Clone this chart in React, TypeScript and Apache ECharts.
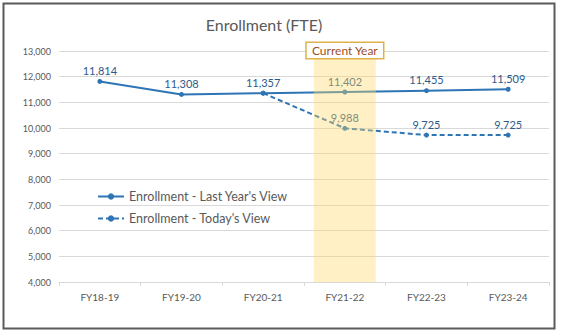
import React, { useEffect, useRef } from "react";
import * as echarts from "echarts";

const categories = ["FY18-19", "FY19-20", "FY20-21", "FY21-22", "FY22-23", "FY23-24"];
const lastYearView = [11814, 11308, 11357, 11402, 11455, 11509];
const todayView: (number | string)[] = ["-", "-", 11357, 9988, 9725, 9725];
const currentYearBand: (number | string)[] = ["-", "-", "-", 13000, "-", "-"];
const seriesNames = ["Enrollment - Last Year's View", "Enrollment - Today's View"];
const yMin = 4000;
const yMax = 13000;
const yInterval = 1000;

const FONT = "Lato, 'Noto Sans', sans-serif";
const BLUE = "#2E75B6";
const LABEL = "#2C5A8C";

export default function App() {
  const ref = useRef<HTMLDivElement>(null);
  useEffect(() => {
    if (!ref.current) return;
    const chart = echarts.init(ref.current, null, { renderer: "svg" });
    chart.setOption({
      animation: false,
      backgroundColor: "#fff",
      textStyle: { fontFamily: FONT },
      title: {
        text: "Enrollment (FTE)",
        left: 259,
        top: 11,
        textAlign: "center",
        textStyle: { fontFamily: FONT, fontSize: 16, fontWeight: "normal", color: "#595959" },
      },
      graphic: [
        {
          type: "rect",
          shape: { x: 3.5, y: 3.5, width: 551, height: 325 },
          style: { fill: "none", stroke: "#5a5a5a", lineWidth: 2 },
          silent: true,
        },
      ],
      legend: {
        orient: "vertical",
        left: 97,
        top: 190,
        padding: 0,
        itemWidth: 26,
        itemHeight: 8,
        itemGap: 9,
        data: seriesNames,
        textStyle: { fontFamily: FONT, fontSize: 12.5, color: "#595959" },
      },
      grid: { left: 59, right: 12, top: 51, bottom: 51 },
      xAxis: {
        type: "category",
        data: categories,
        boundaryGap: true,
        axisLine: { lineStyle: { color: "#D9D9D9" } },
        axisTick: { show: true, length: 4, lineStyle: { color: "#D9D9D9" } },
        axisLabel: { fontFamily: FONT, fontSize: 10, color: "#595959", margin: 10 },
      },
      yAxis: {
        type: "value",
        min: yMin,
        max: yMax,
        interval: yInterval,
        axisLine: { show: false },
        axisTick: { show: false },
        splitLine: { lineStyle: { color: "#D9D9D9" } },
        axisLabel: {
          fontFamily: FONT,
          fontSize: 9,
          color: "#595959",
          margin: 8,
          formatter: (v: number) => v.toLocaleString("en-US"),
        },
      },
      series: [
        {
          name: seriesNames[0],
          type: "line",
          data: lastYearView,
          symbol: "circle",
          symbolSize: 5,
          z: 2,
          lineStyle: { color: BLUE, width: 2 },
          itemStyle: { color: BLUE },
          label: {
            show: true,
            position: "top",
            distance: 3,
            fontFamily: FONT,
            fontSize: 11,
            color: LABEL,
            formatter: (p: any) => Number(p.value).toLocaleString("en-US"),
          },
        },
        {
          name: seriesNames[1],
          type: "line",
          data: todayView,
          symbol: "circle",
          symbolSize: 5,
          z: 2,
          lineStyle: { color: BLUE, width: 2, type: [5, 3] },
          itemStyle: { color: BLUE },
          label: {
            show: true,
            position: "top",
            distance: 3,
            fontFamily: FONT,
            fontSize: 11,
            color: LABEL,
            formatter: (p: any) =>
              p.dataIndex === 2 ? "" : Number(p.value).toLocaleString("en-US"),
          },
        },
        {
          name: "Current Year",
          type: "bar",
          data: currentYearBand,
          barWidth: 62,
          z: 5,
          silent: true,
          itemStyle: { color: "rgba(255,217,102,0.38)" },
          label: {
            show: true,
            position: "top",
            distance: -7,
            formatter: "Current Year",
            fontFamily: FONT,
            fontSize: 12,
            color: "#9C4F1F",
            backgroundColor: "#fff",
            borderColor: "#DDB24A",
            borderWidth: 1.5,
            padding: [1, 5, 1, 5],
            lineHeight: 13,
          },
        },
      ],
    });
    return () => chart.dispose();
  }, []);
  return (
    <div
      ref={ref}
      style={{ position: "fixed", left: 0, top: 0, width: 561, height: 333 }}
    />
  );
}
